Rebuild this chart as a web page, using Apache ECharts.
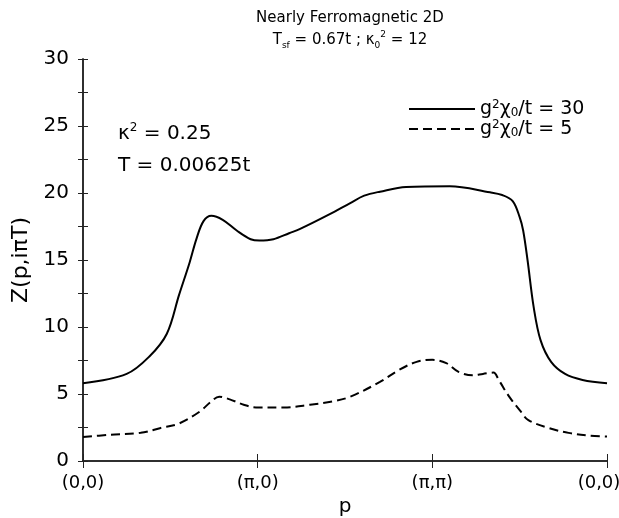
<!DOCTYPE html>
<html>
<head>
<meta charset="utf-8">
<script src="https://cdn.jsdelivr.net/npm/echarts@6/dist/echarts.min.js"></script>
<style>
  html, body { margin: 0; padding: 0; background: #fff; }
  #chart { width: 619px; height: 518px; }
</style>
</head>
<body>
<div id="chart"></div>
<script>
// path position along (0,0) -> (pi,0) -> (pi,pi) -> (0,0), one unit per segment
var xTickLabels = ['(0,0)', '(\u03c0,0)', '(\u03c0,\u03c0)', '(0,0)'];

// g^2 chi0 / t = 30  (solid)
var strongX = [0, 0.25, 0.38, 0.48, 0.55, 0.61, 0.65, 0.69, 0.735, 0.80, 0.88, 0.96, 1.01, 1.09, 1.18, 1.24,
  1.41, 1.53, 1.61, 1.70, 1.85, 2.10, 2.33, 2.40, 2.46, 2.50, 2.52, 2.545, 2.58, 2.62, 2.68, 2.76, 2.86, 3.0];
var strongY = [5.8, 6.5, 7.8, 9.5, 12.4, 14.8, 16.6, 17.9, 18.3, 18.0, 17.2, 16.55, 16.45, 16.55, 17.0, 17.3,
  18.4, 19.25, 19.8, 20.1, 20.45, 20.5, 20.05, 19.85, 19.4, 18.2, 17.2, 15.0, 11.5, 9.0, 7.4, 6.5, 6.05, 5.8];

// g^2 chi0 / t = 5  (dashed)
var weakX = [0, 0.15, 0.33, 0.44, 0.55, 0.67, 0.73, 0.78, 0.84, 0.92, 0.99, 1.15, 1.30, 1.43, 1.53,
  1.70, 1.81, 1.91, 2.0, 2.08, 2.15, 2.23, 2.29, 2.35, 2.38, 2.44, 2.50, 2.55, 2.67, 2.78, 2.90, 3.0];
var weakY = [1.8, 1.95, 2.1, 2.45, 2.8, 3.7, 4.4, 4.8, 4.6, 4.2, 4.0, 4.0, 4.2, 4.45, 4.8,
  5.9, 6.8, 7.4, 7.55, 7.3, 6.65, 6.4, 6.5, 6.6, 6.05, 4.8, 3.8, 3.05, 2.45, 2.1, 1.9, 1.82];

function pairs(xs, ys) {
  return xs.map(function (x, i) { return [x, ys[i]]; });
}

var font = 'DejaVu Sans, sans-serif';
function richSet(size, lh) {
  return {
    n: { fontSize: size, fontFamily: font, color: '#000', lineHeight: lh },
    sup: { fontSize: Math.round(size * 0.62), fontFamily: font, color: '#000', verticalAlign: 'top', lineHeight: lh },
    sub: { fontSize: Math.round(size * 0.62), fontFamily: font, color: '#000', verticalAlign: 'bottom', lineHeight: lh }
  };
}

var chart = echarts.init(document.getElementById('chart'));
chart.setOption({
  animation: false,
  backgroundColor: '#fff',
  title: {
    text: 'Nearly Ferromagnetic 2D',
    left: 345,
    textAlign: 'center',
    top: 6,
    textStyle: { fontFamily: font, fontSize: 15, fontWeight: 'normal', color: '#000' },
    subtext: '{n|T}{sub|sf}{n| = 0.67t ; \u03ba}{sub|0}{sup|2}{n| = 12}',
    subtextStyle: { rich: richSet(15, 20) },
    itemGap: 4
  },
  legend: {
    orient: 'vertical',
    left: 403,
    top: 94,
    itemWidth: 66,
    itemHeight: 10,
    itemGap: 0,
    data: ['s', 'w'],
    itemStyle: { opacity: 0 },
    formatter: function (name) {
      return name === 's' ? '{n|g}{sup|2}{n|\u03c7}{sub|0}{n|/t = 30}' : '{n|g}{sup|2}{n|\u03c7}{sub|0}{n|/t = 5}';
    },
    textStyle: { rich: richSet(19, 20) }
  },
  grid: { left: 83, right: 12, top: 59, bottom: 57, outerBoundsMode: 'none' },
  xAxis: [{
    type: 'value', min: 0, max: 3, interval: 1,
    name: 'p', nameLocation: 'middle', nameGap: 36,
    nameTextStyle: { fontFamily: font, fontSize: 20, color: '#000' },
    axisLine: { lineStyle: { color: '#222', width: 1.5 } },
    axisTick: { inside: true, length: 7, lineStyle: { color: '#222' } },
    axisLabel: {
      margin: 13, fontFamily: font, fontSize: 18, color: '#000',
      formatter: function (v) {
        var i = Math.round(v);
        return i === 3 ? '{last|' + xTickLabels[i] + '}' : xTickLabels[i];
      },
      rich: { last: { fontFamily: font, fontSize: 18, color: '#000', padding: [0, 16, 0, 0] } }
    },
    splitLine: { show: false }
  }, {
    type: 'value', min: 0, max: 3, interval: 1, position: 'top',
    axisLine: { lineStyle: { color: '#222', width: 1.5 } },
    axisTick: { inside: true, length: 7, lineStyle: { color: '#222' } },
    axisLabel: { show: false },
    splitLine: { show: false }
  }],
  yAxis: [{
    type: 'value', min: 0, max: 30, interval: 5,
    name: 'Z(p,i\u03c0T)', nameLocation: 'middle', nameGap: 50,
    nameTextStyle: { fontFamily: font, fontSize: 22, color: '#000' },
    axisLine: { show: true, lineStyle: { color: '#222', width: 1.5 } },
    axisTick: { inside: true, length: 5, lineStyle: { color: '#222' } },
    minorTick: { show: true, splitNumber: 2, length: 5, lineStyle: { color: '#222' } },
    axisLabel: { margin: 14, fontFamily: font, fontSize: 20, color: '#000' },
    splitLine: { show: false }
  }, {
    type: 'value', min: 0, max: 30, interval: 5, position: 'right',
    axisLine: { show: true, lineStyle: { color: '#222', width: 1.5 } },
    axisTick: { inside: true, length: 5, lineStyle: { color: '#222' } },
    minorTick: { show: true, splitNumber: 2, length: 5, lineStyle: { color: '#222' } },
    axisLabel: { show: false },
    splitLine: { show: false }
  }],
  graphic: [{
    type: 'text', left: 118, top: 122,
    style: { text: '{n|\u03ba}{sup|2}{n| = 0.25}', rich: richSet(20, 24) }
  }, {
    type: 'text', left: 118, top: 156,
    style: { text: '{n|T = 0.00625t}', rich: richSet(20, 24) }
  }],
  series: [{
    name: 's', type: 'line', data: pairs(strongX, strongY),
    symbol: 'none', smooth: 0.35,
    lineStyle: { color: '#000', width: 2 }, itemStyle: { color: '#000' }
  }, {
    name: 'w', type: 'line', data: pairs(weakX, weakY),
    symbol: 'none', smooth: 0.35,
    lineStyle: { color: '#000', width: 2, type: [9, 5] }, itemStyle: { color: '#000' }
  }]
});
</script>
</body>
</html>
